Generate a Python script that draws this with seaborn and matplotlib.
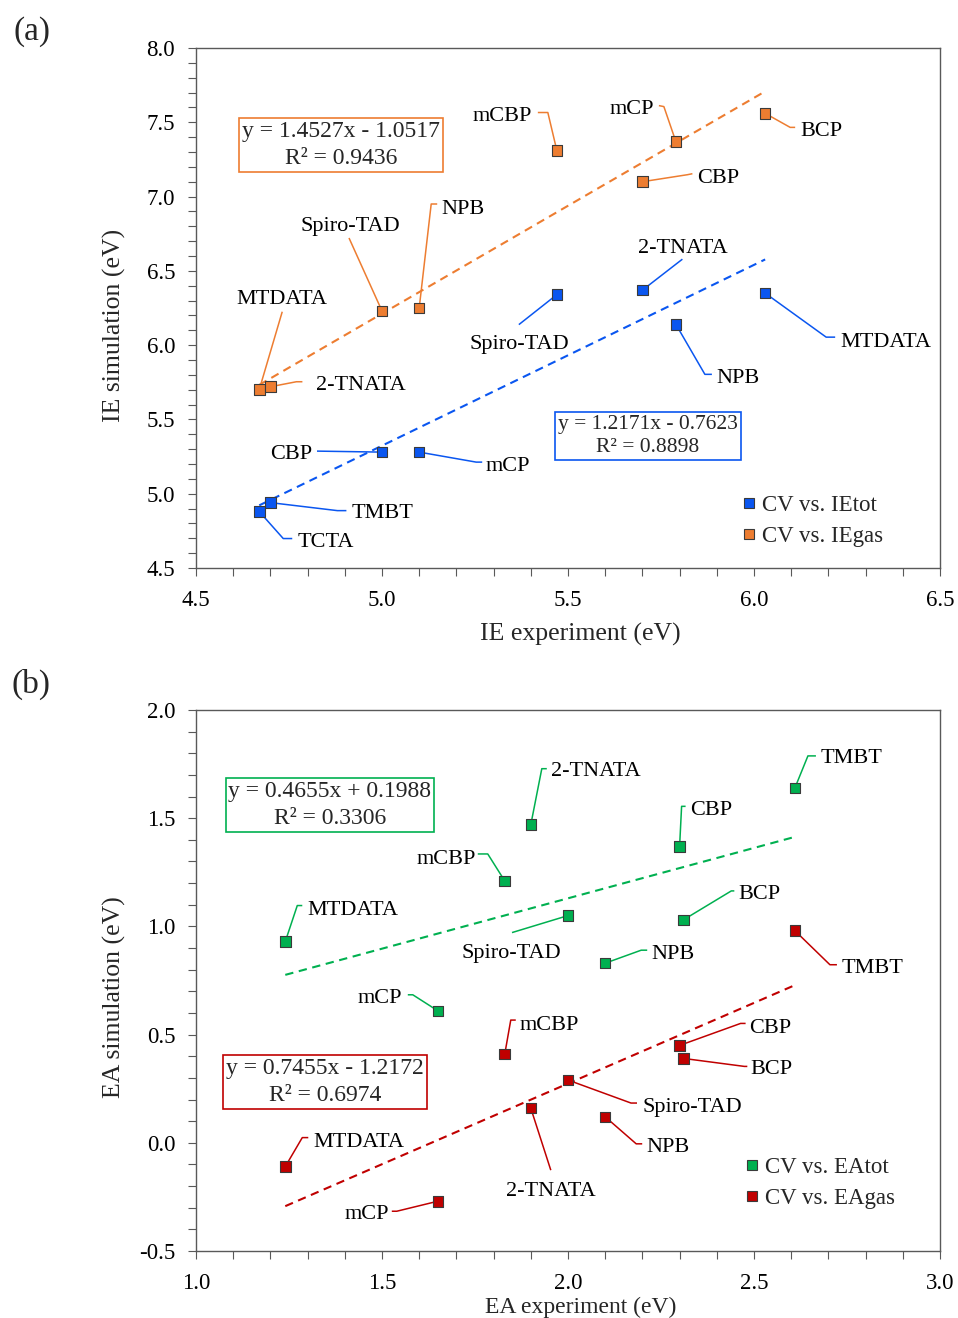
import numpy as np
import pandas as pd
import matplotlib
matplotlib.use("Agg")
import matplotlib.pyplot as plt
import seaborn as sns
from matplotlib.lines import Line2D
from matplotlib.ticker import MultipleLocator, FormatStrFormatter

# ---------------- data ----------------
ie_tot_names = ["TCTA", "TMBT", "CBP", "mCP", "Spiro-TAD", "2-TNATA", "NPB", "MTDATA"]
ie_tot_exp = [4.67, 4.70, 5.00, 5.10, 5.47, 5.70, 5.79, 6.03]
ie_tot_sim = [4.88, 4.94, 5.28, 5.28, 6.34, 6.37, 6.14, 6.35]

ie_gas_names = ["MTDATA", "2-TNATA", "Spiro-TAD", "NPB", "mCBP", "CBP", "mCP", "BCP"]
ie_gas_exp = [4.67, 4.70, 5.00, 5.10, 5.47, 5.70, 5.79, 6.03]
ie_gas_sim = [5.70, 5.72, 6.23, 6.25, 7.31, 7.10, 7.37, 7.56]

ea_names = ["MTDATA", "mCP", "mCBP", "2-TNATA", "Spiro-TAD", "NPB", "CBP", "BCP", "TMBT"]
ea_exp = [1.24, 1.65, 1.83, 1.90, 2.00, 2.10, 2.30, 2.31, 2.61]
ea_tot_sim = [0.93, 0.61, 1.21, 1.47, 1.05, 0.83, 1.37, 1.03, 1.64]
ea_gas_sim = [-0.11, -0.27, 0.41, 0.16, 0.29, 0.12, 0.45, 0.39, 0.98]

# linear fits (slope, intercept, R^2) as printed in the chart
ie_tot_fit = [1.2171, -0.7623, 0.8898]
ie_gas_fit = [1.4527, -1.0517, 0.9436]
ea_tot_fit = [0.4655, 0.1988, 0.3306]
ea_gas_fit = [0.7455, -1.2172, 0.6974]

series_a = ["CV vs. IEtot", "CV vs. IEgas"]
series_b = ["CV vs. EAtot", "CV vs. EAgas"]

# ---------------- styles / layout ----------------
C_BLUE = "#0A56F0"
C_ORANGE = "#ED7D31"
C_GREEN = "#00B050"
C_RED = "#C00000"
EDGE = "#3a3a3a"
SPINE = "#595959"

# label layout: (leader path offsets px, text offset px, ha) -- image coords (y down)
LAY_IE_TOT = {
    "TCTA": ([(24, 27), (33, 27)], (38, 28), "left"),
    "TMBT": ([(67, 8), (76, 8)], (81, 8), "left"),
    "CBP": ([(-65, -1)], (-70, -1), "right"),
    "mCP": ([(57, 10), (63, 10)], (66, 11), "left"),
    "Spiro-TAD": ([(-38, 30)], (-38, 47), "center"),
    "2-TNATA": ([(40, -31)], (40, -45), "center"),
    "NPB": ([(29, 50), (36, 50)], (40, 51), "left"),
    "MTDATA": ([(61, 44), (70, 44)], (75, 46), "left"),
}
LAY_IE_GAS = {
    "MTDATA": ([(23, -78)], (23, -93), "center"),
    "2-TNATA": ([(26, -5), (32, -5)], (46, -4), "left"),
    "Spiro-TAD": ([(-33, -73)], (-32, -87), "center"),
    "NPB": ([(12, -104), (18, -104)], (22, -101), "left"),
    "mCBP": ([(-9, -38), (-19, -38)], (-25, -37), "right"),
    "CBP": ([(45, -7), (50, -8)], (55, -6), "left"),
    "mCP": ([(-12, -35), (-17, -36)], (-22, -35), "right"),
    "BCP": ([(25, 14), (30, 14)], (35, 15), "left"),
}
LAY_EA_TOT = {
    "MTDATA": ([(12, -36), (17, -36)], (22, -34), "left"),
    "mCP": ([(-25, -16), (-30, -16)], (-36, -15), "right"),
    "mCBP": ([(-17, -27), (-27, -27)], (-29, -24), "right"),
    "2-TNATA": ([(11, -56), (16, -56)], (20, -56), "left"),
    "Spiro-TAD": ([(-56, 17)], (-57, 35), "center"),
    "NPB": ([(36, -13), (42, -13)], (46, -12), "left"),
    "CBP": ([(2, -40), (6, -40)], (11, -39), "left"),
    "BCP": ([(48, -29), (51, -29)], (55, -28), "left"),
    "TMBT": ([(13, -32), (21, -32)], (26, -32), "left"),
}
LAY_EA_GAS = {
    "MTDATA": ([(17, -29), (23, -29)], (28, -27), "left"),
    "mCP": ([(-41, 10), (-46, 10)], (-49, 10), "right"),
    "mCBP": ([(6, -34), (11, -34)], (15, -32), "left"),
    "2-TNATA": ([(20, 62)], (20, 80), "center"),
    "Spiro-TAD": ([(63, 23), (69, 23)], (75, 24), "left"),
    "NPB": ([(31, 27), (37, 27)], (41, 28), "left"),
    "CBP": ([(61, -22), (66, -22)], (70, -20), "left"),
    "BCP": ([(61, 8), (64, 8)], (67, 8), "left"),
    "TMBT": ([(35, 34), (42, 34)], (47, 35), "left"),
}

sns.set_style("ticks")
plt.rcParams["font.family"] = ["Liberation Serif", "DejaVu Serif"]
plt.rcParams["axes.unicode_minus"] = False

W, H = 958, 1318
fig = plt.figure(figsize=(W / 100, H / 100), dpi=100)
axA = fig.add_axes([196 / W, 1 - 568 / H, 744 / W, 520 / H])
axB = fig.add_axes([196 / W, 1 - 1251 / H, 744 / W, 541 / H])


def style_axes(ax, xlim, ylim):
    ax.set_xlim(*xlim)
    ax.set_ylim(*ylim)
    ax.xaxis.set_major_locator(MultipleLocator(0.5))
    ax.xaxis.set_minor_locator(MultipleLocator(0.1))
    ax.yaxis.set_major_locator(MultipleLocator(0.5))
    ax.yaxis.set_minor_locator(MultipleLocator(0.1))
    ax.xaxis.set_major_formatter(FormatStrFormatter("%.1f"))
    ax.yaxis.set_major_formatter(FormatStrFormatter("%.1f"))
    for s in ax.spines.values():
        s.set_visible(True)
        s.set_color(SPINE)
        s.set_linewidth(1.0)
    ax.tick_params(which="both", direction="out", length=6, width=0.8,
                   color=SPINE, labelsize=16.5, labelcolor="black")
    ax.tick_params(axis="x", which="major", pad=10)
    ax.tick_params(axis="y", which="major", pad=9)


def annotate(ax, x, y, name, lay, color):
    path_off, txt_off, ha = lay
    px, py = ax.transData.transform((x, y))
    pts = [(px, py)] + [(px + dx, py - dy) for dx, dy in path_off]
    dp = ax.transData.inverted().transform(pts)
    ax.plot(dp[:, 0], dp[:, 1], color=color, lw=1.1, zorder=2,
            solid_capstyle="butt")
    tx, ty = ax.transData.inverted().transform((px + txt_off[0], py - txt_off[1] - 3))
    ax.text(tx, ty, name, ha=ha, va="center", fontsize=16, color="black", zorder=5)


def fit_text(fit):
    a, b, r2 = fit
    sign = "+" if b >= 0 else "-"
    return f"y = {a:.4f}x {sign} {abs(b):.4f}\nR² = {r2:.4f}"


def draw_panel(ax, data, fits, colors, layouts, series):
    frames = []
    for (xs, ys, nm), s in zip(data, series):
        frames.append(pd.DataFrame({"exp": xs, "sim": ys, "series": s, "name": nm}))
    df = pd.concat(frames, ignore_index=True)
    # trend lines
    for (xs, ys, nm), fit, col in zip(data, fits, colors):
        xx = np.array([min(xs), max(xs)])
        ax.plot(xx, fit[0] * xx + fit[1], color=col, lw=1.5,
                linestyle=(0, (4, 2.7)), zorder=2)
    # leader lines + labels
    for (xs, ys, nm), col, lay in zip(data, colors, layouts):
        for x, y, n in zip(xs, ys, nm):
            annotate(ax, x, y, n, lay[n], col)
    sns.scatterplot(data=df, x="exp", y="sim", hue="series",
                    palette=dict(zip(series, colors)), marker="s", s=58,
                    edgecolor=EDGE, linewidth=0.8, legend=False, ax=ax, zorder=4)


def eq_box(ax, cx, cy, fit, ec, fs=17):
    ax.text(cx, cy, fit_text(fit), transform=ax.transAxes,
            ha="center", va="center", multialignment="center", fontsize=fs,
            linespacing=1.35,
            bbox=dict(boxstyle="square,pad=0.12", fc="white", ec=ec, lw=1.2), zorder=6)


# ---------------- panel (a) ----------------
style_axes(axA, (4.5, 6.5), (4.5, 8.0))
draw_panel(axA,
           [(ie_tot_exp, ie_tot_sim, ie_tot_names), (ie_gas_exp, ie_gas_sim, ie_gas_names)],
           [ie_tot_fit, ie_gas_fit], [C_BLUE, C_ORANGE],
           [LAY_IE_TOT, LAY_IE_GAS], series_a)
axA.set_xlabel("IE experiment (eV)", fontsize=18.5)
axA.set_ylabel("IE simulation (eV)", fontsize=18.5)
axA.xaxis.set_label_coords(0.516, -0.128)
axA.yaxis.set_label_coords(-0.109, 0.467)
axA.xaxis.label.set_va("center")
axA.yaxis.label.set_va("center")

eq_box(axA, (341 - 196) / 744, (568 - 145) / 520, ie_gas_fit, C_ORANGE)
eq_box(axA, (648 - 196) / 744, (568 - 436) / 520, ie_tot_fit, C_BLUE, fs=15.5)

hA = [Line2D([], [], marker="s", ls="none", markersize=7, markerfacecolor=c,
             markeredgecolor=EDGE, markeredgewidth=0.8) for c in (C_BLUE, C_ORANGE)]
axA.legend(hA, series_a, loc="center left", bbox_to_anchor=(0.734, 0.0904),
           frameon=False, fontsize=16.5, handlelength=0.6, handletextpad=0.25,
           labelspacing=0.47, borderpad=0, borderaxespad=0)

# ---------------- panel (b) ----------------
style_axes(axB, (1.0, 3.0), (-0.5, 2.0))
draw_panel(axB,
           [(ea_exp, ea_tot_sim, ea_names), (ea_exp, ea_gas_sim, ea_names)],
           [ea_tot_fit, ea_gas_fit], [C_GREEN, C_RED],
           [LAY_EA_TOT, LAY_EA_GAS], series_b)
axB.set_xlabel("EA experiment (eV)", fontsize=17)
axB.set_ylabel("EA simulation (eV)", fontsize=18.5)
axB.xaxis.set_label_coords(0.517, -0.1035)
axB.yaxis.set_label_coords(-0.109, 0.4695)
axB.xaxis.label.set_va("center")
axB.yaxis.label.set_va("center")

eq_box(axB, (330 - 196) / 744, (1251 - 805) / 541, ea_tot_fit, C_GREEN)
eq_box(axB, (325 - 196) / 744, (1251 - 1082) / 541, ea_gas_fit, C_RED)

hB = [Line2D([], [], marker="s", ls="none", markersize=7, markerfacecolor=c,
             markeredgecolor=EDGE, markeredgewidth=0.8) for c in (C_GREEN, C_RED)]
axB.legend(hB, series_b, loc="center left", bbox_to_anchor=(0.738, 0.1257),
           frameon=False, fontsize=16.5, handlelength=0.6, handletextpad=0.25,
           labelspacing=0.47, borderpad=0, borderaxespad=0)

fig.text(32 / W, 1 - 32 / H, "(a)", ha="center", va="center", fontsize=24)
fig.text(31 / W, 1 - 684 / H, "(b)", ha="center", va="center", fontsize=24)

fig.savefig("out.png", dpi=100)
